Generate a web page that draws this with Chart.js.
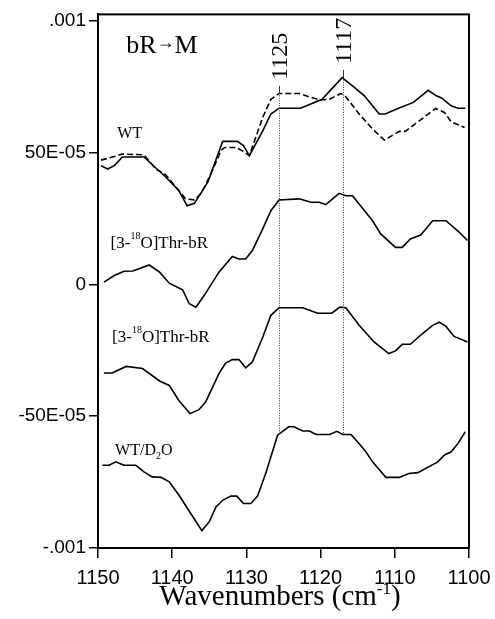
<!DOCTYPE html>
<html>
<head>
<meta charset="utf-8">
<script src="https://cdn.jsdelivr.net/npm/chart.js@4.4.1/dist/chart.umd.min.js"></script>
<style>
  body { margin: 0; background: #fff; }
</style>
</head>
<body>
<canvas id="spectra" width="495" height="619"></canvas>
<script>
// bR -> M difference spectra, values in units of 1E-05 absorbance
var wtX = [1149.6,1148.7,1147.8,1146.7,1143.8,1142.2,1140.9,1139.1,1138.0,1137.0,1135.2,1133.2,1131.2,1130.4,1129.6,1127.8,1126.7,1125.6,1122.7,1119.8,1117.1,1115.7,1114.1,1112.1,1111.3,1109.5,1107.5,1105.5,1104.4,1103.7,1102.4,1101.5,1100.5];
var wtY = [45.1,43.8,45.1,48.4,48.4,44.2,40.9,35.6,29.9,30.8,38.8,54.3,54.3,52.7,48.9,58.3,64.7,66.9,66.9,70.3,78.5,75.4,71.6,64.7,64.7,66.9,69.1,73.7,71.6,70.8,67.8,66.9,66.9];

var wtDashX = [1149.6,1148.5,1146.7,1143.8,1142.2,1140.9,1139.3,1138.2,1137.0,1136.1,1134.8,1133.4,1132.9,1131.4,1130.6,1129.6,1127.8,1126.7,1125.6,1122.9,1121.3,1120.0,1118.8,1117.3,1116.7,1114.8,1113.0,1111.4,1109.4,1108.6,1106.7,1104.5,1103.3,1102.4,1100.6];
var wtDashY = [47.2,48.0,49.5,49.2,43.8,41.7,36.3,32.5,32.1,34.6,41.9,51.0,52.0,52.0,50.8,48.9,63.4,70.3,72.5,72.5,71.0,70.0,70.3,72.5,71.6,64.7,59.0,54.8,58.1,58.1,62.1,66.8,65.3,61.7,59.6];

var thrAX = [1149.2,1147.8,1146.5,1145.3,1143.1,1141.7,1140.4,1138.6,1137.7,1136.8,1135.7,1133.7,1131.9,1131.0,1130.1,1129.2,1127.8,1126.7,1125.6,1122.9,1121.3,1120.2,1119.3,1117.5,1116.6,1115.7,1113.0,1111.9,1109.9,1109.0,1107.9,1106.5,1104.9,1103.1,1101.3,1100.2];
var thrAY = [0.9,3.4,5.0,5.1,7.4,4.7,0.5,-2.0,-7.3,-8.6,-4.2,4.7,10.6,9.7,9.7,12.9,21.1,28.0,32.1,32.5,31.2,31.2,30.3,34.6,33.7,33.7,24.2,19.2,14.1,14.1,17.3,18.8,24.2,24.2,19.8,16.7];

var thrBX = [1149.2,1148.1,1146.2,1144.0,1141.7,1140.4,1139.1,1137.6,1136.4,1135.5,1133.7,1132.8,1131.9,1131.0,1130.1,1129.2,1127.8,1126.7,1125.6,1122.4,1120.4,1118.5,1117.4,1116.6,1114.8,1112.8,1110.8,1109.9,1109.0,1107.9,1106.3,1104.9,1104.0,1103.1,1102.0,1100.2];
var thrBY = [-33.6,-33.6,-31.1,-31.9,-36.6,-38.3,-44.0,-49.0,-47.5,-44.6,-33.8,-29.8,-28.5,-28.5,-31.6,-29.4,-20.0,-11.7,-8.8,-8.8,-10.9,-10.9,-8.6,-8.8,-15.5,-21.8,-26.2,-25.2,-22.7,-22.7,-18.7,-15.5,-14.3,-15.9,-19.7,-21.8];

var d2oX = [1149.4,1148.5,1147.6,1146.5,1144.9,1143.8,1142.7,1141.5,1140.4,1139.1,1137.5,1136.0,1135.0,1134.1,1133.2,1132.1,1131.3,1130.4,1129.4,1128.5,1127.4,1125.8,1124.3,1123.6,1122.4,1121.5,1120.6,1118.8,1117.8,1117.0,1115.9,1114.8,1113.9,1113.0,1111.2,1109.4,1108.1,1106.9,1104.2,1103.3,1102.4,1101.5,1100.5];
var d2oY = [-68.6,-68.6,-67.3,-68.6,-68.6,-71.1,-73.0,-73.2,-74.9,-79.9,-86.9,-93.4,-90.0,-84.4,-81.9,-80.3,-80.3,-83.1,-83.1,-80.3,-71.7,-57.2,-54.0,-54.0,-55.6,-55.6,-56.9,-56.9,-55.7,-56.9,-56.9,-60.4,-63.5,-67.3,-73.2,-73.2,-71.7,-71.4,-67.3,-64.7,-63.5,-60.4,-55.9];

var xTickValues = [1150, 1140, 1130, 1120, 1110, 1100];
var yTickValues = [100, 50, 0, -50, -100];
var yTickLabels = ['.001', '50E-05', '0', '-50E-05', '-.001'];

// marked bands
var markWn = [1125.6, 1117];
var markLabels = ['1125', '1117'];
var markTop = [75.4, 81.4];
var markBottom = [-57.2, -56.9];

var serif = '"Liberation Serif", "Times New Roman", serif';

function pairs(xs, ys) {
  return xs.map(function (x, i) { return { x: x, y: ys[i] }; });
}

function trace(data, dash) {
  return {
    data: data,
    borderColor: '#000',
    borderWidth: 1.6,
    borderDash: dash || [],
    pointRadius: 0,
    tension: 0,
    fill: false
  };
}

// text pieces: [text, font size, vertical shift]
var notes = [
  { wn: 1146.2, v: 87.9, parts: [['bR', 26, 0], ['\u2192', 18, -5], ['M', 26, 0]] },
  { wn: 1147.4, v: 55.7, parts: [['WT', 16, 0]] },
  { wn: 1148.3, v: 14.0, parts: [['[3-', 17, 0], ['18', 10, -9], ['O]Thr-bR', 17, 0]] },
  { wn: 1148.1, v: -22.0, parts: [['[3-', 17, 0], ['18', 10, -9], ['O]Thr-bR', 17, 0]] },
  { wn: 1147.7, v: -64.8, parts: [['WT/D', 16, 0], ['2', 10, 4], ['O', 16, 0]] }
];

function drawParts(ctx, x, y, parts) {
  ctx.textAlign = 'left';
  ctx.textBaseline = 'alphabetic';
  parts.forEach(function (p) {
    ctx.font = p[1] + 'px ' + serif;
    ctx.fillText(p[0], x, y + p[2]);
    x += ctx.measureText(p[0]).width;
  });
}

var extras = {
  id: 'extras',
  afterDraw: function (chart) {
    var ctx = chart.ctx, a = chart.chartArea;
    var sx = chart.scales.x, sy = chart.scales.y;
    ctx.save();
    ctx.fillStyle = '#000';

    // frame
    ctx.strokeStyle = '#000';
    ctx.lineWidth = 2;
    ctx.strokeRect(a.left, a.top, a.right - a.left, a.bottom - a.top);

    // marker lines with rotated labels
    markWn.forEach(function (wn, i) {
      var px = Math.round(sx.getPixelForValue(wn)) + 0.5;
      var top = sy.getPixelForValue(markTop[i]);
      var bot = sy.getPixelForValue(markBottom[i]);
      ctx.strokeStyle = '#333';
      ctx.lineWidth = 1;
      ctx.setLineDash([]);
      ctx.beginPath();
      ctx.moveTo(px, top);
      ctx.lineTo(px, top + 7);
      ctx.stroke();
      ctx.setLineDash([1, 1.5]);
      ctx.beginPath();
      ctx.moveTo(px, top + 7);
      ctx.lineTo(px, bot);
      ctx.stroke();
      ctx.setLineDash([]);

      ctx.save();
      ctx.translate(px + 1, top - 6);
      ctx.rotate(-Math.PI / 2);
      ctx.font = '24px ' + serif;
      ctx.textAlign = 'left';
      ctx.textBaseline = 'middle';
      ctx.fillText(markLabels[i], 0, 0);
      ctx.restore();
    });

    // trace labels
    notes.forEach(function (n) {
      drawParts(ctx, sx.getPixelForValue(n.wn), sy.getPixelForValue(n.v), n.parts);
    });

    // x axis title
    var title = [['Wavenumbers (cm', 29, 0], ['-1', 17, -11], [')', 29, 0]];
    var w = 0;
    title.forEach(function (p) {
      ctx.font = p[1] + 'px ' + serif;
      w += ctx.measureText(p[0]).width;
    });
    drawParts(ctx, 280 - w / 2, 605, title);
    ctx.restore();
  }
};

new Chart(document.getElementById('spectra'), {
  type: 'line',
  data: {
    datasets: [
      trace(pairs(wtX, wtY)),
      trace(pairs(wtDashX, wtDashY), [6, 3]),
      trace(pairs(thrAX, thrAY)),
      trace(pairs(thrBX, thrBY)),
      trace(pairs(d2oX, d2oY))
    ]
  },
  options: {
    responsive: false,
    animation: false,
    devicePixelRatio: 1,
    layout: { padding: { top: 13, right: 26, left: 0, bottom: 0 } },
    plugins: { legend: { display: false }, tooltip: { enabled: false } },
    scales: {
      x: {
        type: 'linear',
        reverse: true,
        min: 1100,
        max: 1150,
        afterBuildTicks: function (s) {
          s.ticks = xTickValues.map(function (v) { return { value: v }; });
        },
        afterFit: function (s) {
          s.height = 71;
          // let the layout padding decide the plot edges
          s.paddingLeft = 0;
          s.paddingRight = 0;
        },
        grid: { drawOnChartArea: false, color: '#000', tickLength: 10, lineWidth: 1.5 },
        border: { display: true, color: '#000', width: 2 },
        ticks: {
          color: '#000',
          padding: 8,
          maxRotation: 0,
          font: { family: '"Liberation Sans", Arial, sans-serif', size: 20 },
          callback: function (v) { return String(v); }
        }
      },
      y: {
        type: 'linear',
        min: -100,
        max: 102.5,
        afterBuildTicks: function (s) {
          s.ticks = yTickValues.map(function (v) { return { value: v }; });
        },
        afterFit: function (s) { s.width = 98; },
        grid: { drawOnChartArea: false, color: '#000', tickLength: 9, lineWidth: 1.5 },
        border: { display: true, color: '#000', width: 2 },
        ticks: {
          color: '#000',
          padding: 3,
          font: { family: '"Liberation Sans", Arial, sans-serif', size: 19 },
          callback: function (v) { return yTickLabels[yTickValues.indexOf(v)]; }
        }
      }
    }
  },
  plugins: [extras]
});
</script>
</body>
</html>
